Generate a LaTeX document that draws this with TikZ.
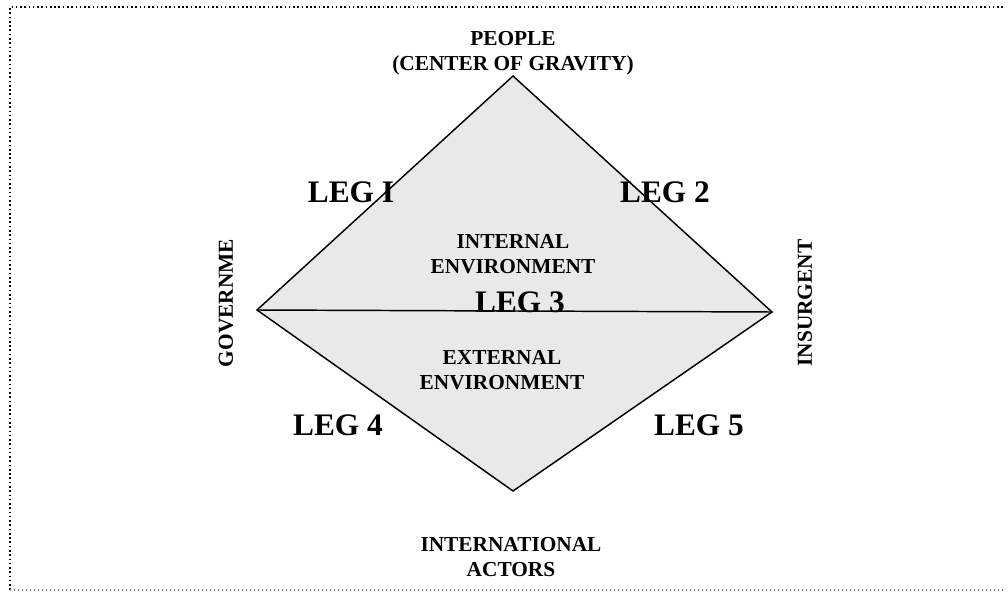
\documentclass[tikz,border=0pt]{standalone}
\usepackage{fontspec}
\setmainfont{Liberation Serif}
\begin{document}
\begin{tikzpicture}[x=0.75pt,y=-0.75pt,
  lbl/.style={font=\fontsize{16}{18.5}\selectfont\bfseries, align=center, inner sep=0pt},
  leglbl/.style={font=\fontsize{23.5}{26}\selectfont\bfseries, inner sep=0pt},
  edge/.style={draw=black, line width=1.1pt}]
\useasboundingbox (0,0) rectangle (1008,592);
% frame
\draw[dotted, line width=1.2pt] (10,590) -- (10,7) -- (1005,7);
\draw[dotted, line width=1pt, gray] (10,590) -- (1005,590);
% diamond
\coordinate (T) at (513,76);
\coordinate (L) at (257,310);
\coordinate (R) at (772,312);
\coordinate (B) at (513,491);
\fill[gray!17] (T) -- (R) -- (B) -- (L) -- cycle;
\draw[edge, line join=miter] (T) -- (R) -- (B) -- (L) -- cycle;
\draw[edge] (L) -- (R);
% labels
\node[lbl] (people) at (513,53) {PEOPLE\\(CENTER OF GRAVITY)};
\node[lbl] (intl) at (511,557) {INTERNATIONAL\\ACTORS};
\node[lbl] (internal) at (513,254) {INTERNAL\\ENVIRONMENT};
\node[lbl] (external) at (502,370) {EXTERNAL\\ENVIRONMENT};
\node[lbl, rotate=90] (gov) at (226,303) {GOVERNME};
\node[lbl, rotate=90] (ins) at (805,303) {INSURGENT};
\node[leglbl] (leg1) at (351,192) {LEG I};
\node[leglbl] (leg2) at (665,192) {LEG 2};
\node[leglbl] (leg3) at (520,302) {LEG 3};
\node[leglbl] (leg4) at (338,425) {LEG 4};
\node[leglbl] (leg5) at (699,425) {LEG 5};
\end{tikzpicture}
\end{document}
